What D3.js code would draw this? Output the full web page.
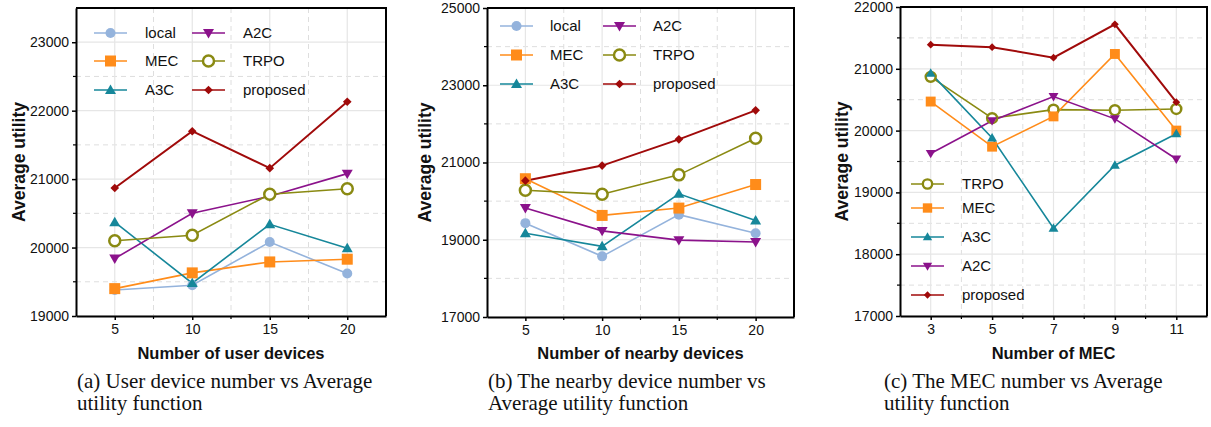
<!DOCTYPE html>
<html>
<head>
<meta charset="utf-8">
<script src="https://cdn.jsdelivr.net/npm/d3@7"></script>
<style>
  body { margin: 0; background: #fff; }
  svg { display: block; }
  .tick text { font-family: Arial, "Liberation Sans", sans-serif; font-size: 14px; fill: #111; }
</style>
</head>
<body>
<div id="chart"></div>
<script>
// panel (a): number of user devices
var usersX = [5, 10, 15, 20];
var usersLocal = [19380, 19450, 20080, 19620];
var usersMEC = [19400, 19630, 19790, 19830];
var usersA3C = [20370, 19480, 20340, 19990];
var usersA2C = [19840, 20500, 20750, 21080];
var usersTRPO = [20100, 20180, 20780, 20860];
var usersProposed = [20870, 21700, 21160, 22130];

// panel (b): number of nearby devices
var nearbyX = [5, 10, 15, 20];
var nearbyLocal = [19430, 18570, 19650, 19170];
var nearbyMEC = [20580, 19630, 19820, 20430];
var nearbyA3C = [19170, 18830, 20190, 19500];
var nearbyA2C = [19820, 19230, 18990, 18940];
var nearbyTRPO = [20280, 20180, 20680, 21630];
var nearbyProposed = [20530, 20920, 21600, 22350];

// panel (c): number of MEC
var mecX = [3, 5, 7, 9, 11];
var mecTRPO = [20870, 20200, 20340, 20330, 20350];
var mecMEC = [20470, 19740, 20230, 21240, 20000];
var mecA3C = [20930, 19880, 18420, 19440, 19950];
var mecA2C = [19630, 20160, 20550, 20190, 19540];
var mecProposed = [21390, 21350, 21180, 21720, 20460];

var yTicksA = [19000, 20000, 21000, 22000, 23000];
var yTicksB = [17000, 19000, 21000, 23000, 25000];
var yTicksC = [17000, 18000, 19000, 20000, 21000, 22000];

var styles = {
    "local":    {color: "#94b3dc", symbol: "circle", size: 5},
    "MEC":      {color: "#ff8c1a", symbol: "square", size: 11},
    "A3C":      {color: "#16879a", symbol: "up", size: 11},
    "A2C":      {color: "#8b128b", symbol: "down", size: 11},
    "TRPO":     {color: "#8a8a12", symbol: "ring", size: 5.5},
    "proposed": {color: "#a00a0a", symbol: "diamond", size: 6}
};

var svg = d3.select("#chart").append("svg")
    .attr("width", 1211)
    .attr("height", 427);

function drawMarker(g, name, cx, cy, scale) {
    var s = styles[name];
    var k = scale || 1;
    if (s.symbol == "circle") {
        g.append("circle").attr("cx", cx).attr("cy", cy).attr("r", s.size * k)
            .attr("fill", s.color);
    } else if (s.symbol == "ring") {
        g.append("circle").attr("cx", cx).attr("cy", cy).attr("r", s.size * k)
            .attr("fill", "#fff").attr("stroke", s.color).attr("stroke-width", 2.5 * Math.min(1, k + 0.1));
    } else if (s.symbol == "square") {
        var h = s.size * k / 2;
        g.append("rect").attr("x", cx - h).attr("y", cy - h)
            .attr("width", 2 * h).attr("height", 2 * h).attr("fill", s.color);
    } else if (s.symbol == "up" || s.symbol == "down") {
        var w = s.size * k / 2, t = s.size * k * 0.45;
        var dir = s.symbol == "up" ? 1 : -1;
        g.append("path")
            .attr("d", "M" + cx + "," + (cy - dir * t * 1.1) + "L" + (cx + w) + "," + (cy + dir * t * 0.8) +
                "L" + (cx - w) + "," + (cy + dir * t * 0.8) + "Z")
            .attr("fill", s.color);
    } else if (s.symbol == "diamond") {
        var r = s.size * k * 0.72;
        g.append("path")
            .attr("d", "M" + cx + "," + (cy - r) + "L" + (cx + r) + "," + cy + "L" + cx + "," + (cy + r) +
                "L" + (cx - r) + "," + cy + "Z")
            .attr("fill", s.color);
    }
}

function drawPanel(p) {
    var x = d3.scaleLinear().domain(p.xDomain).range([p.left, p.right]);
    var y = d3.scaleLinear().domain(p.yDomain).range([p.bottom, p.top]);
    var g = svg.append("g");

    // minor grid (dashed)
    g.selectAll(".mx").data(p.xMinor).enter().append("line")
        .attr("x1", d => x(d)).attr("x2", d => x(d))
        .attr("y1", p.top).attr("y2", p.bottom)
        .attr("stroke", "#dedede").attr("stroke-dasharray", "5,4");
    g.selectAll(".my").data(p.yMinor).enter().append("line")
        .attr("y1", d => y(d)).attr("y2", d => y(d))
        .attr("x1", p.left).attr("x2", p.right)
        .attr("stroke", "#dedede").attr("stroke-dasharray", "5,4");
    // major grid
    g.selectAll(".gx").data(p.xTicks).enter().append("line")
        .attr("x1", d => x(d)).attr("x2", d => x(d))
        .attr("y1", p.top).attr("y2", p.bottom)
        .attr("stroke", "#e6e6e6").attr("stroke-width", 1.2);
    g.selectAll(".gy").data(p.yTicks).enter().append("line")
        .attr("y1", d => y(d)).attr("y2", d => y(d))
        .attr("x1", p.left).attr("x2", p.right)
        .attr("stroke", "#e6e6e6").attr("stroke-width", 1.2);

    // series lines
    var line = d3.line().x(d => x(d[0])).y(d => y(d[1]));
    p.series.forEach(function (s) {
        var pts = p.xValues.map((v, i) => [v, s.values[i]]);
        g.append("path").datum(pts)
            .attr("d", line)
            .attr("fill", "none")
            .attr("stroke", styles[s.name].color)
            .attr("stroke-width", s.name == "proposed" ? 2 : 1.6);
    });
    p.series.forEach(function (s) {
        p.xValues.forEach(function (v, i) {
            drawMarker(g, s.name, x(v), y(s.values[i]), p.markerScale);
        });
    });

    // legend
    p.series.forEach(function (s) {
        var pos = p.legendPos[s.name];
        g.append("line").attr("x1", pos[0]).attr("x2", pos[0] + 33)
            .attr("y1", pos[1]).attr("y2", pos[1])
            .attr("stroke", styles[s.name].color).attr("stroke-width", 1.6);
        drawMarker(g, s.name, pos[0] + 16.5, pos[1], p.legendScale);
        g.append("text").attr("x", pos[0] + p.legendTextGap).attr("y", pos[1])
            .attr("dy", "0.36em")
            .style("font-family", "Arial, 'Liberation Sans', sans-serif")
            .style("font-size", "15px").attr("fill", "#111")
            .text(s.name);
    });

    // axes
    var xAxis = g.append("g").attr("transform", "translate(0," + p.bottom + ")")
        .call(d3.axisBottom(x).tickValues(p.xTicks).tickFormat(d3.format("d"))
            .tickSize(4).tickSizeOuter(0).tickPadding(4));
    var yAxis = g.append("g").attr("transform", "translate(" + p.left + ",0)")
        .call(d3.axisLeft(y).tickValues(p.yTicks).tickFormat(d3.format("d"))
            .tickSize(4).tickSizeOuter(0).tickPadding(3));
    [xAxis, yAxis].forEach(function (a) {
        a.select(".domain").attr("stroke", "#000").attr("stroke-width", 2);
        a.selectAll(".tick line").attr("stroke", "#000").attr("stroke-width", 1.5);
    });
    g.selectAll(".mtx").data(p.xMinor).enter().append("line")
        .attr("x1", d => x(d)).attr("x2", d => x(d))
        .attr("y1", p.bottom).attr("y2", p.bottom + 3)
        .attr("stroke", "#000").attr("stroke-width", 1.2);
    g.selectAll(".mty").data(p.yMinor).enter().append("line")
        .attr("y1", d => y(d)).attr("y2", d => y(d))
        .attr("x1", p.left - 3).attr("x2", p.left)
        .attr("stroke", "#000").attr("stroke-width", 1.2);

    // frame top/right
    g.append("path")
        .attr("d", "M" + p.left + "," + p.top + "H" + p.right + "V" + p.bottom)
        .attr("fill", "none").attr("stroke", "#000").attr("stroke-width", 2);

    // axis titles
    g.append("text")
        .attr("transform", "translate(" + p.yTitleX + "," + ((p.top + p.bottom) / 2) + ") rotate(-90)")
        .attr("text-anchor", "middle").attr("dy", "0.35em")
        .style("font-family", "Arial, 'Liberation Sans', sans-serif")
        .style("font-size", "17.5px").style("font-weight", "bold").attr("fill", "#111")
        .text("Average utility");
    g.append("text")
        .attr("x", (p.left + p.right) / 2).attr("y", 359)
        .attr("text-anchor", "middle")
        .style("font-family", "Arial, 'Liberation Sans', sans-serif")
        .style("font-size", "16.5px").style("font-weight", "bold").attr("fill", "#111")
        .text(p.xTitle);

    // caption
    var cap = g.append("text")
        .style("font-family", "'Liberation Serif', 'Times New Roman', serif")
        .style("font-size", "21px").attr("fill", "#111");
    p.caption.forEach(function (c, i) {
        cap.append("tspan").attr("x", p.captionX).attr("y", 388 + i * 22).text(c);
    });
}

drawPanel({
    left: 76, right: 386, top: 8, bottom: 316,
    xDomain: [2.5, 22.5], yDomain: [19000, 23500],
    xTicks: usersX, xMinor: [7.5, 12.5, 17.5],
    yTicks: yTicksA, yMinor: [19500, 20500, 21500, 22500],
    xValues: usersX,
    series: [
        {name: "local", values: usersLocal},
        {name: "MEC", values: usersMEC},
        {name: "A3C", values: usersA3C},
        {name: "A2C", values: usersA2C},
        {name: "TRPO", values: usersTRPO},
        {name: "proposed", values: usersProposed}
    ],
    legendPos: {
        "local": [94, 33], "MEC": [94, 61], "A3C": [94, 90],
        "A2C": [192, 33], "TRPO": [192, 61], "proposed": [192, 90]
    },
    legendTextGap: 51, legendScale: 1, markerScale: 1,
    yTitleX: 19, xTitle: "Number of user devices",
    caption: ["(a) User device number vs Average", "utility function"], captionX: 77
});

drawPanel({
    left: 487, right: 794, top: 8, bottom: 317,
    xDomain: [2.5, 22.5], yDomain: [17000, 25000],
    xTicks: nearbyX, xMinor: [7.5, 12.5, 17.5],
    yTicks: yTicksB, yMinor: [18000, 20000, 22000, 24000],
    xValues: nearbyX,
    series: [
        {name: "local", values: nearbyLocal},
        {name: "MEC", values: nearbyMEC},
        {name: "A3C", values: nearbyA3C},
        {name: "A2C", values: nearbyA2C},
        {name: "TRPO", values: nearbyTRPO},
        {name: "proposed", values: nearbyProposed}
    ],
    legendPos: {
        "local": [500, 26], "MEC": [500, 55], "A3C": [500, 84],
        "A2C": [603, 26], "TRPO": [603, 55], "proposed": [603, 84]
    },
    legendTextGap: 50, legendScale: 1, markerScale: 1,
    yTitleX: 425, xTitle: "Number of nearby devices",
    caption: ["(b) The nearby device number vs", "Average utility function"], captionX: 488
});

drawPanel({
    left: 900, right: 1207, top: 7, bottom: 316,
    xDomain: [2, 12], yDomain: [17000, 22000],
    xTicks: mecX, xMinor: [4, 6, 8, 10],
    yTicks: yTicksC, yMinor: [17500, 18500, 19500, 20500, 21500],
    xValues: mecX,
    series: [
        {name: "TRPO", values: mecTRPO},
        {name: "MEC", values: mecMEC},
        {name: "A3C", values: mecA3C},
        {name: "A2C", values: mecA2C},
        {name: "proposed", values: mecProposed}
    ],
    legendPos: {
        "TRPO": [911, 184], "MEC": [911, 208], "A3C": [911, 237],
        "A2C": [911, 266], "proposed": [911, 295]
    },
    legendTextGap: 51, legendScale: 0.85, markerScale: 0.9,
    yTitleX: 842, xTitle: "Number of MEC",
    caption: ["(c) The MEC number vs Average", "utility function"], captionX: 884
});
</script>
</body>
</html>
